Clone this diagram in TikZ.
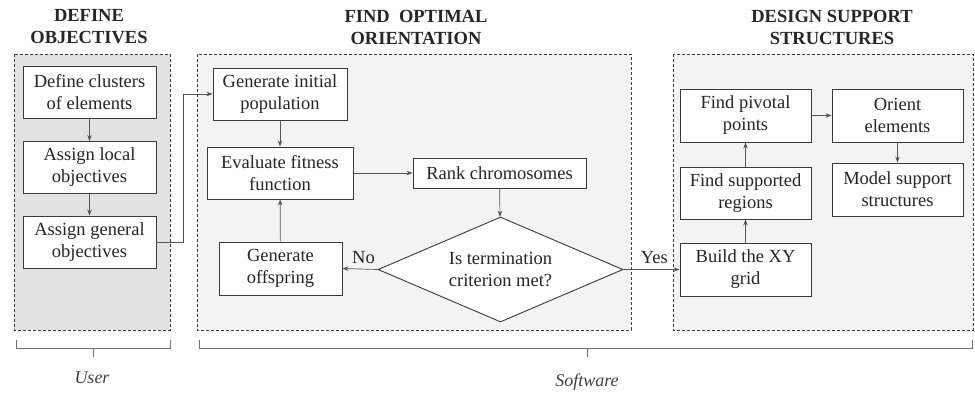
\documentclass[tikz,border=0pt]{standalone}
\usepackage{fontspec}
\setmainfont{Liberation Serif}
\usetikzlibrary{shapes.geometric,arrows.meta}
\definecolor{panelA}{HTML}{E2E2E2}
\definecolor{panelB}{HTML}{F3F3F3}
\definecolor{edge}{HTML}{3A3A3A}
\definecolor{wire}{HTML}{555555}
\tikzset{
  txt/.style={font=\fontsize{18.5}{22}\selectfont, text=black!85},
  panel/.style={draw=edge, line width=0.8pt, dash pattern=on 3pt off 2pt},
  stepbox/.style={txt, draw=edge, fill=white, line width=0.9pt, align=center,
    inner sep=0pt, minimum width=133pt, minimum height=52pt},
  title/.style={font=\fontsize{18.5}{22}\selectfont\bfseries, text=black!85, align=center},
  flow/.style={draw=wire, line width=0.7pt, -{Stealth[length=6pt,width=4.5pt]}},
  brace/.style={draw=black!55, line width=0.6pt},
  who/.style={font=\fontsize{18}{22}\selectfont\itshape, text=black!75}
}
\begin{document}
\begin{tikzpicture}[x=1pt,y=-1pt]
\useasboundingbox (0,0) rectangle (975,394);

% dashed panels
\draw[panel, fill=panelA] (14,54) rectangle (170,330);
\draw[panel, fill=panelB] (197,54) rectangle (631,330);
\draw[panel, fill=panelB] (673,54) rectangle (973,330);

% panel titles
\node[title] (t1) at (89,27) {DEFINE\\OBJECTIVES};
\node[title] (t2) at (416,27) {FIND\ \ OPTIMAL\\ORIENTATION};
\node[title] (t3) at (832,27) {DESIGN SUPPORT\\STRUCTURES};

% user steps
\node[stepbox] (clu) at (89.5,92) {Define clusters\\of elements};
\node[stepbox] (loc) at (89.5,167.5) {Assign local\\objectives};
\node[stepbox] (gen) at (89.5,242) {Assign general\\objectives};

% genetic algorithm
\node[stepbox, minimum width=134pt] (gip) at (280,94) {Generate initial\\population};
\node[stepbox, minimum width=146pt] (eva) at (280,173) {Evaluate fitness\\function};
\node[stepbox, minimum width=173pt, minimum height=30pt] (rank) at (499.5,173) {Rank chromosomes};
\node[txt, diamond, draw=edge, fill=white, line width=0.9pt, align=center, inner sep=0pt,
      aspect=2.33, minimum width=245pt, minimum height=105pt] (dia) at (500.5,269.5)
      {Is termination\\criterion met?};
\node[stepbox, minimum width=123pt, minimum height=53pt] (off) at (280.5,268.5) {Generate\\offspring};

% support design
\node[stepbox, minimum width=131pt, minimum height=53pt] (piv) at (745.5,115.5) {Find pivotal\\points};
\node[stepbox, minimum width=131pt, minimum height=53pt] (ori) at (897.5,115.5) {Orient\\elements};
\node[stepbox, minimum width=131pt, minimum height=52pt] (sup) at (745.5,193) {Find supported\\regions};
\node[stepbox, minimum width=131pt, minimum height=53pt] (mod) at (897.5,189.5) {Model support\\structures};
\node[stepbox, minimum width=131pt, minimum height=53pt] (xy) at (745.5,269.5) {Build the XY\\grid};

% connectors
\draw[flow] (clu) -- (loc);
\draw[flow] (loc) -- (gen);
\coordinate (bend) at (183,242);
\draw[flow] (gen.east) -- (bend) |- (gip.west);
\draw[flow] (gip) -- (eva);
\draw[flow] (eva.east) -- (rank.west);
\draw[flow] (rank) -- (dia);
\draw[flow] (dia.west) -- node[txt, above, pos=0.4, yshift=2pt] (no) {No} (off.east);
\draw[flow] (off) -- (eva);
\draw[flow] (dia.east) -- node[txt, above, pos=0.55, yshift=2pt] (yes) {Yes} (xy.west);
\draw[flow] (xy) -- (sup);
\draw[flow] (sup) -- (piv);
\draw[flow] (piv) -- (ori);
\draw[flow] (ori) -- (mod);

% role brackets
\draw[brace] (16,340) -- (16,348) -- (170,348) -- (170,340);
\draw[brace] (93,348) -- (93,357);
\draw[brace] (199,340) -- (199,348) -- (972,348) -- (972,340);
\draw[brace] (587,348) -- (587,357);
\node[who] (user) at (92,378) {User};
\node[who] (soft) at (587,382) {Software};
\end{tikzpicture}
\end{document}
